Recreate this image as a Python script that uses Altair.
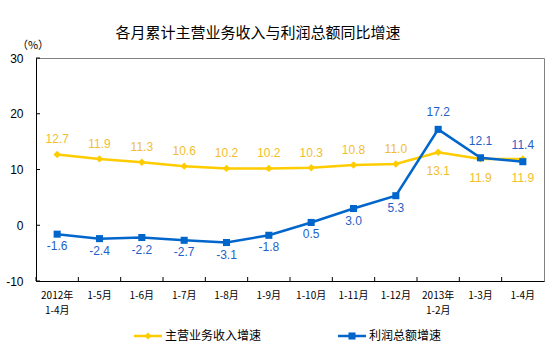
import altair as alt
import pandas as pd

categories = ["2012年\n1-4月", "1-5月", "1-6月", "1-7月", "1-8月", "1-9月",
              "1-10月", "1-11月", "1-12月", "2013年\n1-2月", "1-3月", "1-4月"]
revenue = [12.7, 11.9, 11.3, 10.6, 10.2, 10.2, 10.3, 10.8, 11.0, 13.1, 11.9, 11.9]
profit = [-1.6, -2.4, -2.2, -2.7, -3.1, -1.8, 0.5, 3.0, 5.3, 17.2, 12.1, 11.4]
series_names = ["主营业务收入增速", "利润总额增速"]
y_ticks = [-10, 0, 10, 20, 30]
title_text = "各月累计主营业务收入与利润总额同比增速"
unit_text = "（%）"

YELLOW = "#FFCC00"
BLUE = "#0066CC"
YELLOW_LBL = "#F2BE2E"
BLUE_LBL = "#1F5FC8"
CJK = "Noto Sans CJK SC"
NUM = "Liberation Sans"

rows = []
for i, c in enumerate(categories):
    rows.append({"cat": c, "idx": i, "series": series_names[0], "value": revenue[i]})
    rows.append({"cat": c, "idx": i, "series": series_names[1], "value": profit[i]})
df = pd.DataFrame(rows)

x_scale = alt.Scale(type="band", paddingInner=0, paddingOuter=0)
y_scale = alt.Scale(domain=[-10, 30], nice=False, zero=False)
color_scale = alt.Scale(domain=series_names, range=[YELLOW, BLUE])

x_axis = alt.Axis(title=None, ticks=False, grid=False, labelAngle=0, labelPadding=9,
                  labelFont=CJK, labelFontSize=10, labelColor="black", labelLineHeight=15,
                  domainColor="black", domainWidth=1,
                  labelExpr="split(datum.label, '\\n')")
y_axis = alt.Axis(title=None, ticks=False, grid=False, values=y_ticks, labelPadding=13,
                  labelFont=NUM, labelFontSize=12, labelColor="black",
                  domainColor="black", domainWidth=1,
                  labelExpr="replace(datum.label, '\u2212', '-')")

X = alt.X("cat:N", sort=categories, scale=x_scale, axis=x_axis)
Y = alt.Y("value:Q", scale=y_scale, axis=y_axis)

base = alt.Chart(df).encode(x=X, y=Y)
col = alt.Color("series:N", scale=color_scale, legend=None)

rev_f = alt.datum.series == series_names[0]
pro_f = alt.datum.series == series_names[1]

line_rev = base.transform_filter(rev_f).mark_line(strokeWidth=2.5).encode(color=col)
line_pro = base.transform_filter(pro_f).mark_line(strokeWidth=2.5).encode(color=col)
pts_rev = base.transform_filter(rev_f).mark_point(shape="diamond", filled=True, size=55, opacity=1).encode(color=col)
pts_pro = base.transform_filter(pro_f).mark_point(shape="square", filled=True, size=50, opacity=1).encode(color=col)

lbl_base = base.transform_calculate(
    lbl="replace(format(datum.value, '.1f'), '\u2212', '-')")
txt = alt.Text("lbl:N")
lbl_rev_up = lbl_base.transform_filter(rev_f & (alt.datum.idx < 9)).mark_text(
    dy=-15, fontSize=12, font=NUM, color=YELLOW_LBL).encode(text=txt)
lbl_rev_dn = lbl_base.transform_filter(rev_f & (alt.datum.idx >= 9)).mark_text(
    dy=19, fontSize=12, font=NUM, color=YELLOW_LBL).encode(text=txt)
lbl_pro_up = lbl_base.transform_filter(pro_f & (alt.datum.value >= 10)).mark_text(
    dy=-17, fontSize=12, font=NUM, color=BLUE_LBL).encode(text=txt)
lbl_pro_dn = lbl_base.transform_filter(pro_f & (alt.datum.value < 10)).mark_text(
    dy=12, fontSize=12, font=NUM, color=BLUE_LBL).encode(text=txt)

# inward ticks
ytick = alt.Chart(pd.DataFrame({"value": y_ticks})).mark_rule(color="black", strokeWidth=1).encode(
    y=alt.Y("value:Q", scale=y_scale), x=alt.value(0), x2=alt.value(4))
xtick = alt.Chart(pd.DataFrame({"cat": categories})).mark_rule(color="black", strokeWidth=1).encode(
    x=alt.X("cat:N", sort=categories, scale=x_scale, bandPosition=0),
    y=alt.value(223), y2=alt.value(219))

# titles
title = alt.Chart(pd.DataFrame({"t": [title_text]})).mark_text(
    font=CJK, fontSize=15, color="black", align="center", baseline="middle").encode(
    text="t:N", x=alt.value(222), y=alt.value(-25))
unit = alt.Chart(pd.DataFrame({"t": [unit_text]})).mark_text(
    font=CJK, fontSize=11, color="black", align="center", baseline="middle").encode(
    text="t:N", x=alt.value(-3), y=alt.value(-12))

# legend
leg_df = pd.DataFrame({"series": series_names})
leg = alt.Chart(leg_df)
leg_layers = []
for name, x0, shape in [(series_names[0], 98, "diamond"), (series_names[1], 302, "square")]:
    f = alt.datum.series == name
    leg_layers.append(leg.transform_filter(f).mark_rule(strokeWidth=2.5).encode(
        color=col, x=alt.value(x0), x2=alt.value(x0 + 28), y=alt.value(278)))
    leg_layers.append(leg.transform_filter(f).mark_point(shape=shape, filled=True, size=50, opacity=1).encode(
        color=col, x=alt.value(x0 + 14), y=alt.value(278)))
    leg_layers.append(leg.transform_filter(f).mark_text(
        font=CJK, fontSize=12, color="black", align="left", baseline="middle").encode(
        text="series:N", x=alt.value(x0 + 31), y=alt.value(278)))

chart = alt.layer(
    line_rev, line_pro, pts_rev, pts_pro,
    lbl_rev_up, lbl_rev_dn, lbl_pro_up, lbl_pro_dn,
    ytick, xtick, title, unit, *leg_layers
).properties(
    width=508, height=223,
    autosize=alt.AutoSizeParams(type="none"),
    padding={"left": 36, "top": 58, "right": 10, "bottom": 70},
    background="white",
).configure_view(stroke="#808080", strokeWidth=1)

chart.save("out.html", embed_options={"renderer": "svg", "actions": False})
